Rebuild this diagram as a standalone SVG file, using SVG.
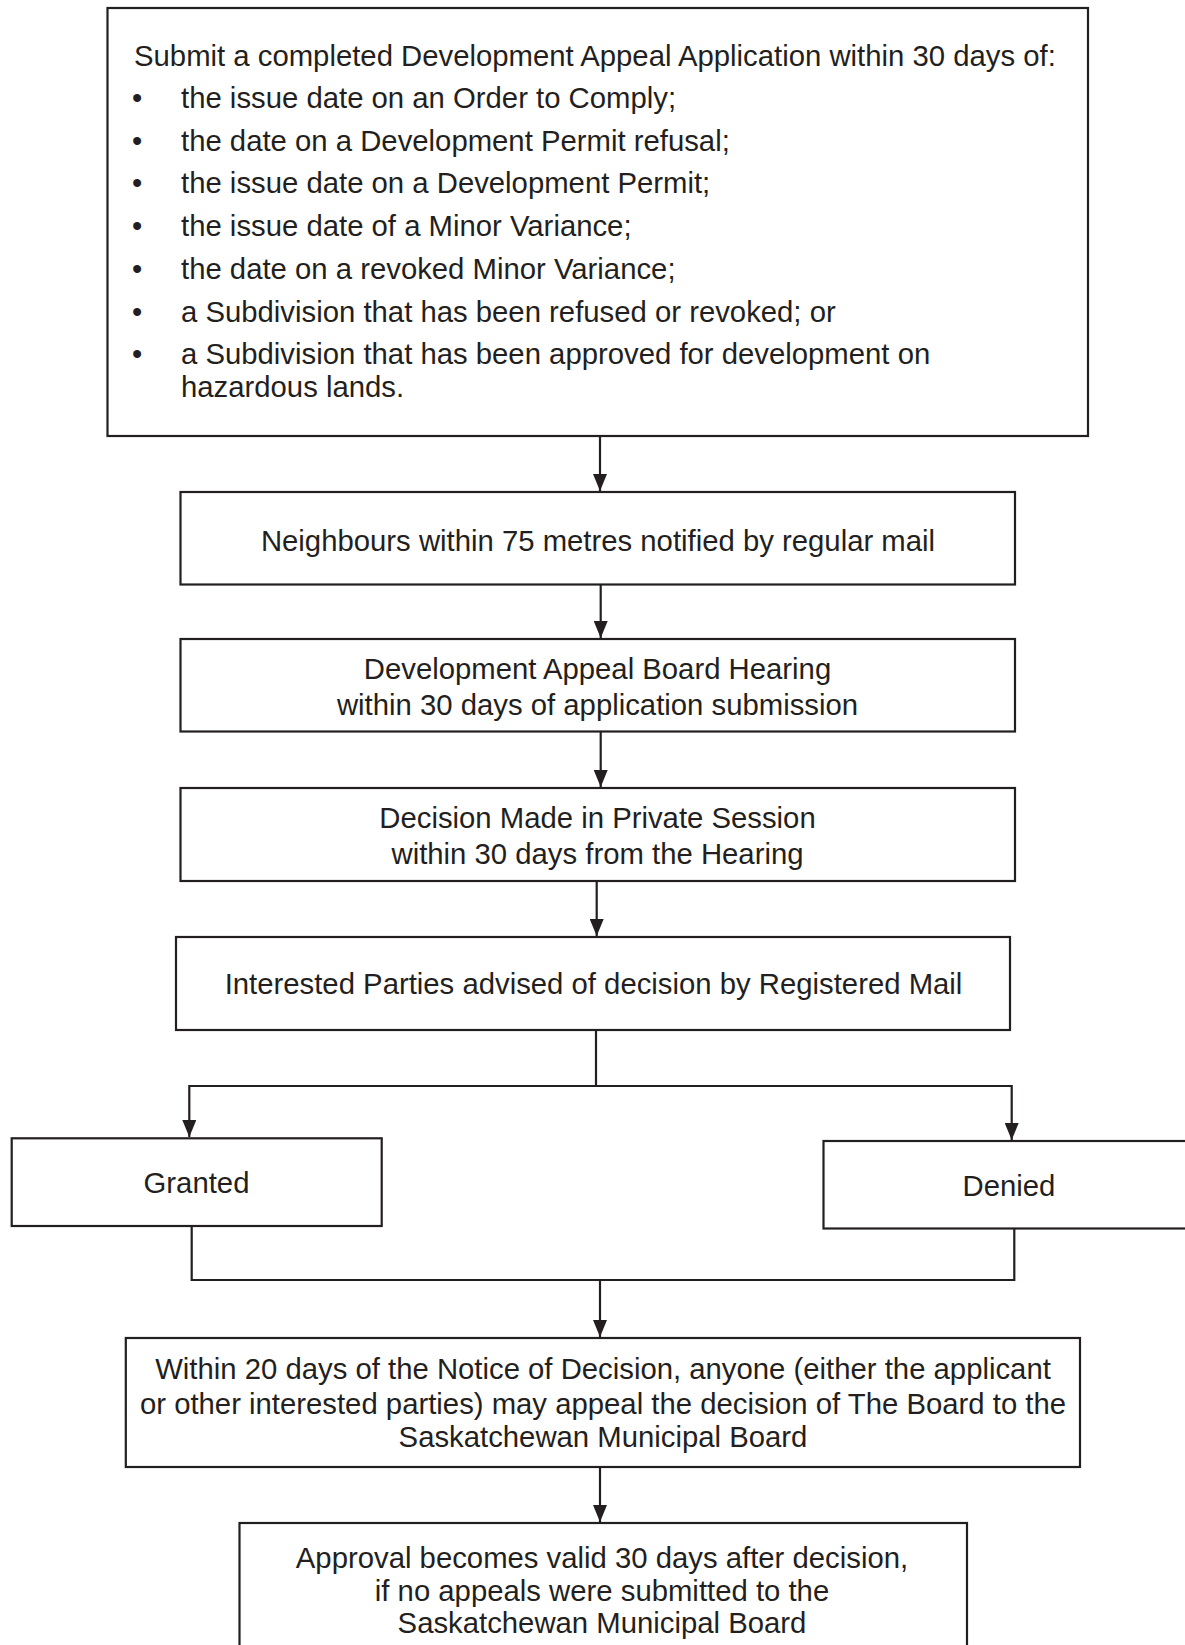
<svg xmlns="http://www.w3.org/2000/svg" width="1185" height="1645" viewBox="0 0 1185 1645">
<style>
.box{fill:#ffffff;stroke:#231f20;stroke-width:2.2}
.ln{fill:none;stroke:#231f20;stroke-width:2.2}
text{font-family:"Liberation Sans",Arial,sans-serif;font-size:29.3px;fill:#231f20}
.c{text-anchor:middle}
</style>
<defs>
<marker id="ah" markerWidth="17" markerHeight="14" refX="17" refY="7" orient="auto" markerUnits="userSpaceOnUse">
<path d="M0,0 L17,7 L0,14 Z" fill="#231f20"/>
</marker>
</defs>
<rect width="1185" height="1645" fill="#ffffff"/>
<g id="connectors">
<line class="ln" x1="600" y1="436" x2="600" y2="491" marker-end="url(#ah)"/>
<line class="ln" x1="600.7" y1="585" x2="600.7" y2="638" marker-end="url(#ah)"/>
<line class="ln" x1="600.7" y1="732" x2="600.7" y2="787" marker-end="url(#ah)"/>
<line class="ln" x1="596.7" y1="881" x2="596.7" y2="936" marker-end="url(#ah)"/>
<polyline class="ln" points="596,1030 596,1086"/>
<polyline class="ln" points="596,1086 189.3,1086 189.3,1137" marker-end="url(#ah)"/>
<polyline class="ln" points="596,1086 1011.7,1086 1011.7,1140" marker-end="url(#ah)"/>
<polyline class="ln" points="191.7,1226 191.7,1280 1014.3,1280 1014.3,1228"/>
<line class="ln" x1="600" y1="1280" x2="600" y2="1337" marker-end="url(#ah)"/>
<line class="ln" x1="600" y1="1467" x2="600" y2="1522" marker-end="url(#ah)"/>
</g>
<g id="node-submit">
<rect class="box" x="107.5" y="8" width="980.5" height="428"/>
<text x="134" y="66">Submit a completed Development Appeal Application within 30 days of:</text>
<text x="132" y="108">•</text><text x="181" y="108">the issue date on an Order to Comply;</text>
<text x="132" y="150.7">•</text><text x="181" y="150.7">the date on a Development Permit refusal;</text>
<text x="132" y="193.4">•</text><text x="181" y="193.4">the issue date on a Development Permit;</text>
<text x="132" y="236.1">•</text><text x="181" y="236.1">the issue date of a Minor Variance;</text>
<text x="132" y="278.8">•</text><text x="181" y="278.8">the date on a revoked Minor Variance;</text>
<text x="132" y="321.5">•</text><text x="181" y="321.5">a Subdivision that has been refused or revoked; or</text>
<text x="132" y="364.2">•</text><text x="181" y="364.2">a Subdivision that has been approved for development on</text>
<text x="181" y="396.5">hazardous lands.</text>
</g>
<g id="node-neighbours">
<rect class="box" x="180.5" y="492" width="834.5" height="92.5"/>
<text class="c" x="598" y="550.5">Neighbours within 75 metres notified by regular mail</text>
</g>
<g id="node-hearing">
<rect class="box" x="180.5" y="639" width="834.5" height="92.5"/>
<text class="c" x="597.5" y="678.5">Development Appeal Board Hearing</text>
<text class="c" x="597.5" y="715">within 30 days of application submission</text>
</g>
<g id="node-decision">
<rect class="box" x="180.5" y="788" width="834.5" height="93"/>
<text class="c" x="597.5" y="827.5">Decision Made in Private Session</text>
<text class="c" x="597.5" y="864">within 30 days from the Hearing</text>
</g>
<g id="node-advised">
<rect class="box" x="176" y="937" width="834" height="93"/>
<text class="c" x="593.5" y="994">Interested Parties advised of decision by Registered Mail</text>
</g>
<g id="node-granted">
<rect class="box" x="11.7" y="1138.3" width="370" height="87.7"/>
<text class="c" x="196.5" y="1193">Granted</text>
</g>
<g id="node-denied">
<rect class="box" x="823.5" y="1141" width="380" height="87.5"/>
<text class="c" x="1009" y="1195.5">Denied</text>
</g>
<g id="node-appeal">
<rect class="box" x="125.8" y="1338" width="954.2" height="129"/>
<text class="c" x="603" y="1379">Within 20 days of the Notice of Decision, anyone (either the applicant</text>
<text class="c" x="603" y="1413.5">or other interested parties) may appeal the decision of The Board to the</text>
<text class="c" x="603" y="1447">Saskatchewan Municipal Board</text>
</g>
<g id="node-approval">
<rect class="box" x="239.5" y="1523" width="727.5" height="140"/>
<text class="c" x="602" y="1568">Approval becomes valid 30 days after decision,</text>
<text class="c" x="602" y="1600.5">if no appeals were submitted to the</text>
<text class="c" x="602" y="1633">Saskatchewan Municipal Board</text>
</g>
</svg>
